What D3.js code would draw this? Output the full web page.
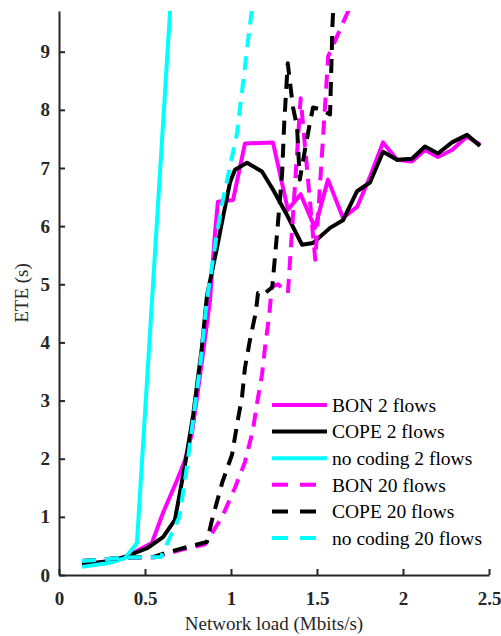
<!DOCTYPE html>
<html>
<head>
<meta charset="utf-8">
<script src="https://cdn.jsdelivr.net/npm/d3@7/dist/d3.min.js"></script>
<style>
  html, body { margin: 0; padding: 0; background: #fff; }
  svg { display: block; }
</style>
</head>
<body>
<svg id="chart" width="501" height="636"></svg>
<script>
// Network load (Mbits/s) vs. end-to-end delay (s), one array pair per series
const bonTwoX = [0.134, 0.297, 0.384, 0.54, 0.605, 0.686, 0.733, 0.773, 0.8, 0.84, 0.878, 0.907, 0.924, 1.012, 1.081, 1.244, 1.331, 1.405, 1.488, 1.564, 1.651, 1.733, 1.808, 1.884, 1.965, 2.052, 2.128, 2.203, 2.285, 2.372, 2.448];
const bonTwoY = [0.18, 0.24, 0.31, 0.55, 1.07, 1.63, 1.98, 2.44, 3.0, 3.87, 4.73, 5.89, 6.42, 6.45, 7.42, 7.44, 6.28, 6.55, 5.97, 6.8, 6.14, 6.33, 6.85, 7.44, 7.14, 7.11, 7.31, 7.19, 7.31, 7.54, 7.40];

const copeTwoX = [0.134, 0.297, 0.384, 0.512, 0.605, 0.674, 0.73, 0.78, 0.83, 0.86, 0.92, 0.953, 0.994, 1.023, 1.093, 1.18, 1.244, 1.331, 1.413, 1.477, 1.576, 1.651, 1.733, 1.808, 1.884, 1.965, 2.052, 2.128, 2.203, 2.285, 2.372, 2.448];
const copeTwoY = [0.18, 0.24, 0.31, 0.46, 0.65, 0.95, 1.85, 2.75, 3.9, 4.8, 5.65, 6.15, 6.75, 6.97, 7.09, 6.94, 6.63, 6.16, 5.68, 5.71, 5.97, 6.1, 6.6, 6.75, 7.28, 7.14, 7.16, 7.37, 7.25, 7.44, 7.57, 7.38];

const noCodingTwoX = [0.134, 0.297, 0.384, 0.453, 0.541, 0.65];
const noCodingTwoY = [0.14, 0.21, 0.29, 0.55, 4.73, 9.9];

const bonTwentyX = [0.134, 0.384, 0.55, 0.63, 0.72, 0.85, 0.87, 0.953, 1.023, 1.081, 1.128, 1.15, 1.18, 1.198, 1.221, 1.238, 1.273, 1.331, 1.405, 1.49, 1.565, 1.68, 1.72];
const bonTwentyY = [0.24, 0.30, 0.30, 0.37, 0.44, 0.53, 0.62, 1.03, 1.5, 1.94, 2.5, 2.93, 3.44, 3.92, 4.44, 4.96, 5.0, 4.85, 8.2, 5.42, 8.92, 9.69, 9.95];

const copeTwentyX = [0.134, 0.384, 0.55, 0.63, 0.72, 0.86, 0.89, 0.95, 1.006, 1.04, 1.064, 1.081, 1.11, 1.145, 1.157, 1.186, 1.24, 1.27, 1.297, 1.31, 1.33, 1.36, 1.384, 1.40, 1.43, 1.459, 1.477, 1.529, 1.576, 1.59, 1.598];
const copeTwentyY = [0.24, 0.30, 0.31, 0.39, 0.46, 0.57, 0.95, 1.6, 2.07, 2.67, 3.06, 3.56, 4.04, 4.53, 4.85, 4.82, 4.95, 5.95, 6.9, 7.8, 8.8, 8.05, 7.71, 6.8, 7.31, 7.78, 8.04, 8.0, 7.92, 9.47, 9.95];

const noCodingTwentyX = [0.134, 0.384, 0.593, 0.70, 0.744, 0.82, 0.86, 0.919, 0.953, 0.994, 1.035, 1.081, 1.116, 1.13];
const noCodingTwentyY = [0.24, 0.30, 0.31, 1.0, 1.86, 3.58, 4.73, 5.89, 6.45, 7.02, 7.6, 8.74, 9.6, 9.9];

const seriesNames = ["BON 2 flows", "COPE 2 flows", "no coding 2 flows", "BON 20 flows", "COPE 20 flows", "no coding 20 flows"];
const xTicks = [0, 0.5, 1, 1.5, 2, 2.5];
const yTicks = [0, 1, 2, 3, 4, 5, 6, 7, 8, 9];
const xLabel = "Network load (Mbits/s)";
const yLabel = "ETE (s)";

// ---- layout and styles ----
const FONT = "'Liberation Serif'";
const margin = { left: 59, right: 12, top: 11, bottom: 61 };
const W = 501, H = 636;
const innerW = W - margin.left - margin.right;
const innerH = H - margin.top - margin.bottom;

const styles = [
  { color: "#ff00ff", dash: null },
  { color: "#000000", dash: null },
  { color: "#00ffff", dash: null },
  { color: "#ff00ff", dash: "14,9" },
  { color: "#000000", dash: "14,9" },
  { color: "#00ffff", dash: "14,9" }
];

const seriesData = [
  [bonTwoX, bonTwoY],
  [copeTwoX, copeTwoY],
  [noCodingTwoX, noCodingTwoY],
  [bonTwentyX, bonTwentyY],
  [copeTwentyX, copeTwentyY],
  [noCodingTwentyX, noCodingTwentyY]
].map(([xs, ys]) => xs.map((x, i) => ({ x, y: ys[i] })));

const svg = d3.select("#chart");
const g = svg.append("g").attr("transform", `translate(${margin.left},${margin.top})`);

const x = d3.scaleLinear().domain([0, 2.5]).range([0, innerW]);
const y = d3.scaleLinear().domain([0, 9.7]).range([innerH, 0]);

g.append("clipPath").attr("id", "plot-clip")
  .append("rect").attr("x", 0).attr("y", 0).attr("width", innerW).attr("height", innerH);

const line = d3.line().x(d => x(d.x)).y(d => y(d.y));

const plot = g.append("g").attr("clip-path", "url(#plot-clip)");
seriesData.forEach((pts, i) => {
  plot.append("path")
    .datum(pts)
    .attr("d", line)
    .attr("fill", "none")
    .attr("stroke", styles[i].color)
    .attr("stroke-width", 4)
    .attr("stroke-linejoin", "round")
    .attr("stroke-linecap", "butt")
    .attr("stroke-dasharray", styles[i].dash);
});

// ---- axes (left and bottom only, ticks pointing inward) ----
const axisColor = "#262626";
const xAxis = g.append("g")
  .attr("transform", `translate(0,${innerH})`)
  .call(d3.axisBottom(x).tickValues(xTicks).tickFormat(d3.format("")).tickSizeInner(-6).tickSizeOuter(0).tickPadding(17));
const yAxis = g.append("g")
  .call(d3.axisLeft(y).tickValues(yTicks).tickFormat(d3.format("d")).tickSizeInner(-6).tickSizeOuter(0).tickPadding(9));

[xAxis, yAxis].forEach(ax => {
  ax.attr("font-family", null).attr("font-size", null);
  ax.select(".domain").attr("stroke", axisColor).attr("stroke-width", 2);
  ax.selectAll(".tick line").attr("stroke", axisColor).attr("stroke-width", 2);
  ax.selectAll(".tick text")
    .attr("fill", "#262626")
    .style("font-family", FONT)
    .style("font-size", "19px")
    .style("font-weight", "bold");
});

svg.append("text")
  .attr("x", margin.left + innerW / 2)
  .attr("y", 630)
  .attr("text-anchor", "middle")
  .attr("fill", "#262626")
  .style("font-family", FONT)
  .style("font-size", "19px")
  .text(xLabel);

svg.append("text")
  .attr("transform", `translate(28,${margin.top + innerH / 2}) rotate(-90)`)
  .attr("text-anchor", "middle")
  .attr("fill", "#262626")
  .style("font-family", FONT)
  .style("font-size", "19px")
  .text(yLabel);

// ---- legend ----
const legend = svg.append("g");
const legendStartY = 405, legendStep = 26.6;
seriesNames.forEach((name, i) => {
  const ly = legendStartY + i * legendStep;
  legend.append("line")
    .attr("x1", 272).attr("x2", 327)
    .attr("y1", ly).attr("y2", ly)
    .attr("stroke", styles[i].color)
    .attr("stroke-width", 4)
    .attr("stroke-dasharray", styles[i].dash ? "16,12" : null);
  legend.append("text")
    .attr("x", 332).attr("y", ly)
    .attr("dy", "0.35em")
    .attr("fill", "#000")
    .style("font-family", FONT)
    .style("font-size", "19.5px")
    .text(name);
});
</script>
</body>
</html>
